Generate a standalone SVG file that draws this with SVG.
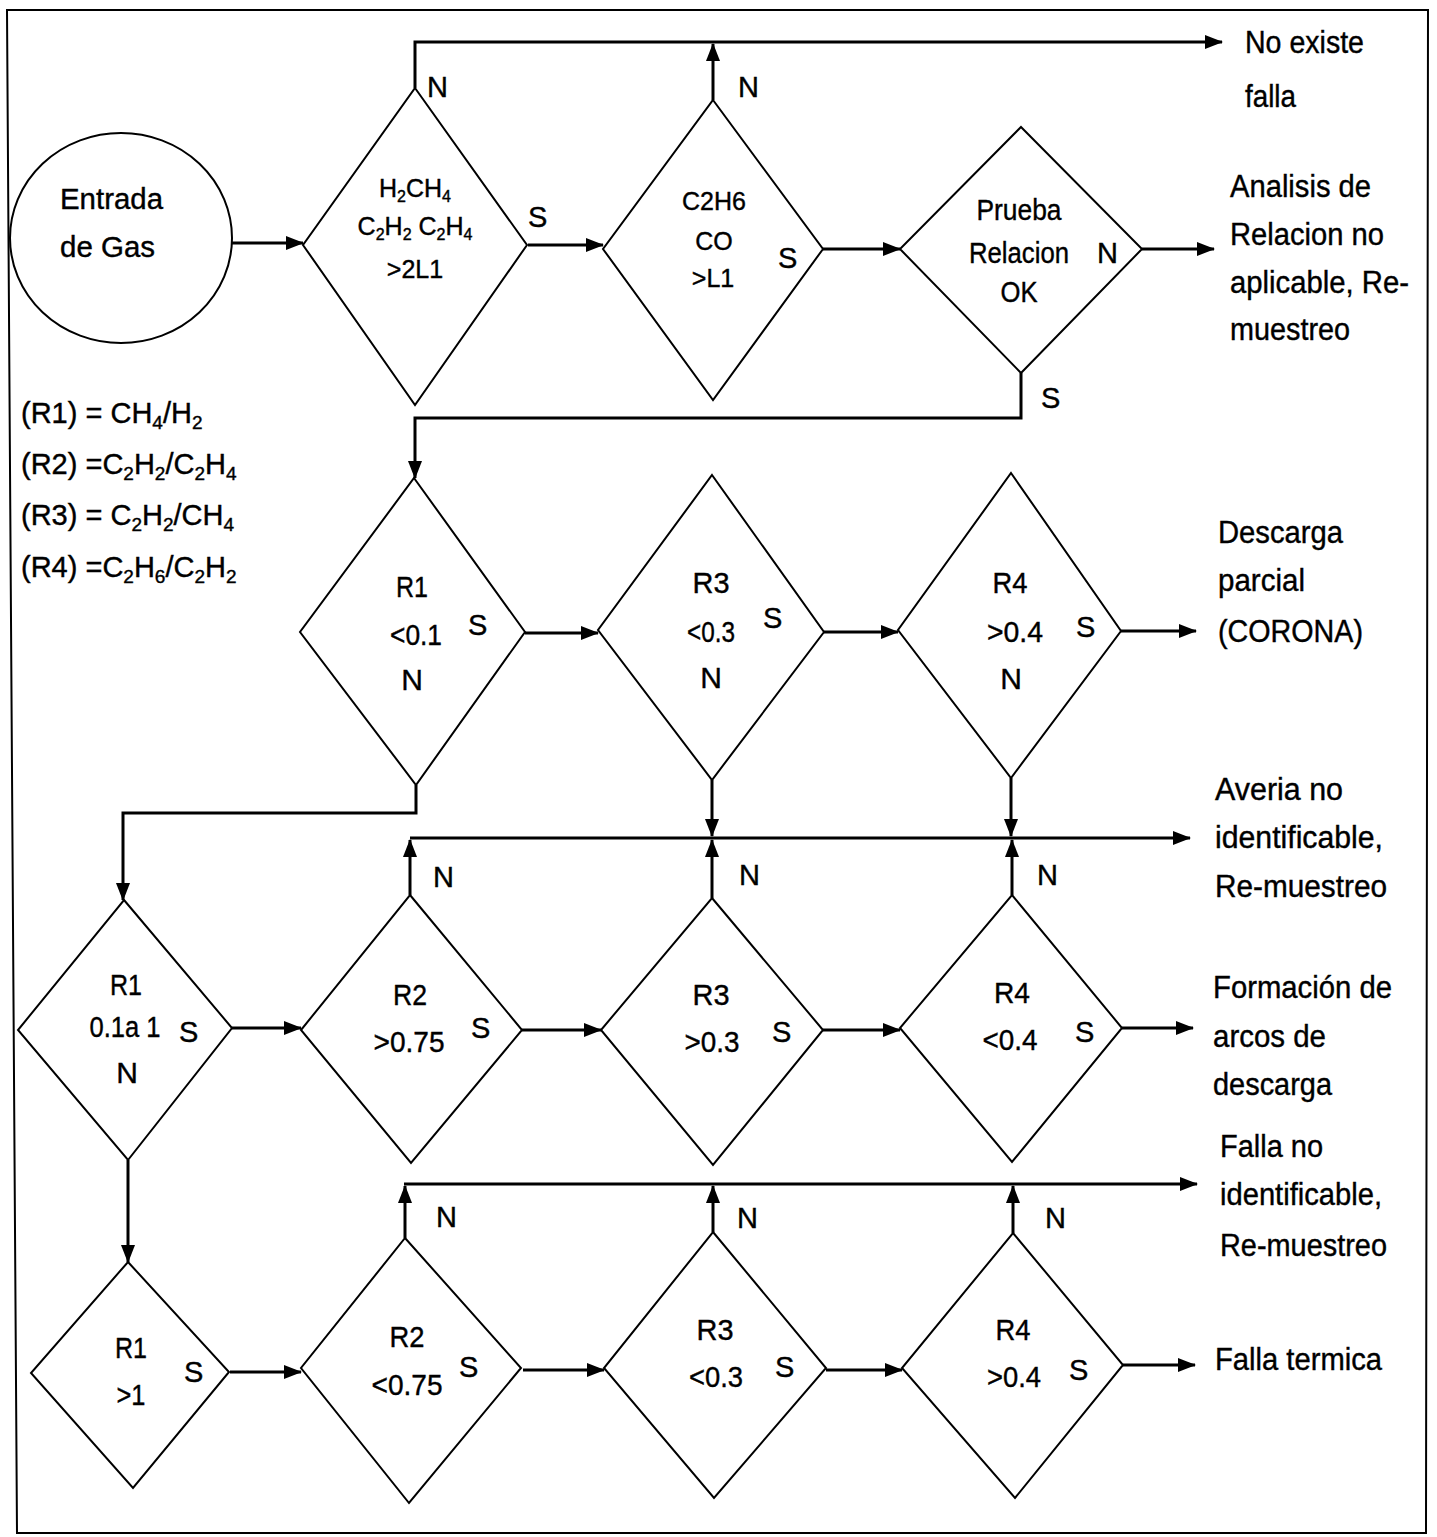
<svg xmlns="http://www.w3.org/2000/svg" width="1437" height="1537" viewBox="0 0 1437 1537">
<defs>
<marker id="ah" markerWidth="18" markerHeight="14" refX="17" refY="7" orient="auto" markerUnits="userSpaceOnUse"><path d="M0,0 L18,7 L0,14 z" fill="#000"/></marker>
<style>
text{font-family:"Liberation Sans",Arial,sans-serif;fill:#000;stroke:#000;stroke-width:0.4}
.n{font-size:30px;text-anchor:middle}
.t{font-size:25px;text-anchor:middle}
.l{font-size:29px}
.r{font-size:31px}
.g{font-size:29px}
.sub{font-size:19px}
.d{fill:#fff;stroke:#000;stroke-width:2}
.ca{fill:none;stroke:#000;stroke-width:3;marker-end:url(#ah)}
</style>
</defs>
<rect x="0" y="0" width="1437" height="1537" fill="#fff"/>
<polygon points="7,10 1428,10 1426,1533 17,1533" fill="none" stroke="#000" stroke-width="2"/>

<g id="connectors">
<path class="ca" d="M232,243 H303"/>
<path class="ca" d="M528,245 H603"/>
<path class="ca" d="M823,249 H900"/>
<path class="ca" d="M1142,249 H1214"/>
<path class="ca" d="M415,88 V42 H1222"/>
<path class="ca" d="M713,100 V44"/>
<path class="ca" d="M1021,373 V418 H415 V478"/>
<path class="ca" d="M525,633 H598"/>
<path class="ca" d="M824,632 H898"/>
<path class="ca" d="M1121,631 H1196"/>
<path class="ca" d="M416,785 V813 H123 V900"/>
<path class="ca" d="M712,780 V836"/>
<path class="ca" d="M1011,778 V836"/>
<path class="ca" d="M410,838 H1190"/>
<path class="ca" d="M410,895 V840"/>
<path class="ca" d="M712,898 V840"/>
<path class="ca" d="M1012,895 V840"/>
<path class="ca" d="M232,1028 H301"/>
<path class="ca" d="M522,1030 H601"/>
<path class="ca" d="M823,1030 H900"/>
<path class="ca" d="M1122,1028 H1193"/>
<path class="ca" d="M128,1160 V1262"/>
<path class="ca" d="M404,1184 H1197"/>
<path class="ca" d="M405,1238 V1186"/>
<path class="ca" d="M713,1232 V1186"/>
<path class="ca" d="M1013,1233 V1186"/>
<path class="ca" d="M230,1372 H301"/>
<path class="ca" d="M523,1370 H604"/>
<path class="ca" d="M826,1370 H902"/>
<path class="ca" d="M1123,1365 H1195"/>
</g>

<g id="start">
<ellipse cx="121" cy="238" rx="111" ry="105" fill="#fff" stroke="#000" stroke-width="2"/>
<text class="g" x="60" y="209" font-size="33" textLength="103" lengthAdjust="spacingAndGlyphs">Entrada</text>
<text class="g" x="60" y="257" font-size="33" textLength="95" lengthAdjust="spacingAndGlyphs">de Gas</text>
</g>

<g id="d1">
<polygon class="d" points="415,88 527,245 415,405 303,245"/>
<text class="t" x="415" y="197">H<tspan font-size="16" dy="5">2</tspan><tspan dy="-5">CH</tspan><tspan font-size="16" dy="5">4</tspan></text>
<text class="t" x="415" y="235">C<tspan font-size="16" dy="5">2</tspan><tspan dy="-5">H</tspan><tspan font-size="16" dy="5">2</tspan><tspan dy="-5"> C</tspan><tspan font-size="16" dy="5">2</tspan><tspan dy="-5">H</tspan><tspan font-size="16" dy="5">4</tspan></text>
<text class="t" x="415" y="278">&gt;2L1</text>
<text class="l" x="427" y="97">N</text>
<text class="l" x="528" y="227">S</text>
</g>

<g id="d2">
<polygon class="d" points="713,100 823,249 713,400 603,249"/>
<text class="t" x="714" y="210">C2H6</text>
<text class="t" x="714" y="250">CO</text>
<text class="t" x="713" y="287">&gt;L1</text>
<text class="l" x="738" y="97">N</text>
<text class="l" x="778" y="268">S</text>
</g>

<g id="d3">
<polygon class="d" points="1021,127 1142,249 1021,373 900,249"/>
<text class="n" x="1019" y="220" textLength="85" lengthAdjust="spacingAndGlyphs">Prueba</text>
<text class="n" x="1019" y="263" textLength="100" lengthAdjust="spacingAndGlyphs">Relacion</text>
<text class="n" x="1019" y="302" textLength="37" lengthAdjust="spacingAndGlyphs">OK</text>
<text class="l" x="1097" y="263">N</text>
<text class="l" x="1041" y="408">S</text>
</g>

<g id="d4">
<polygon class="d" points="414,478 525,632 416,785 300,632"/>
<text class="n" x="412" y="597" textLength="32" lengthAdjust="spacingAndGlyphs">R1</text>
<text class="n" x="416" y="645" textLength="52" lengthAdjust="spacingAndGlyphs">&lt;0.1</text>
<text class="n" x="412" y="690">N</text>
<text class="l" x="468" y="635">S</text>
</g>

<g id="d5">
<polygon class="d" points="712,475 824,632 712,780 598,630"/>
<text class="n" x="711" y="593" textLength="37" lengthAdjust="spacingAndGlyphs">R3</text>
<text class="n" x="711" y="642" textLength="48" lengthAdjust="spacingAndGlyphs">&lt;0.3</text>
<text class="n" x="711" y="688">N</text>
<text class="l" x="763" y="628">S</text>
</g>

<g id="d6">
<polygon class="d" points="1011,473 1121,631 1011,778 898,630"/>
<text class="n" x="1010" y="593" textLength="35" lengthAdjust="spacingAndGlyphs">R4</text>
<text class="n" x="1015" y="642" textLength="56" lengthAdjust="spacingAndGlyphs">&gt;0.4</text>
<text class="n" x="1011" y="689">N</text>
<text class="l" x="1076" y="637">S</text>
</g>

<g id="d7">
<polygon class="d" points="124,900 232,1028 128,1160 18,1030"/>
<text class="n" x="126" y="995" textLength="32" lengthAdjust="spacingAndGlyphs">R1</text>
<text class="n" x="125" y="1037" textLength="71" lengthAdjust="spacingAndGlyphs">0.1a 1</text>
<text class="l" x="179" y="1042">S</text>
<text class="n" x="127" y="1083">N</text>
</g>

<g id="d8">
<polygon class="d" points="410,895 522,1030 411,1163 301,1030"/>
<text class="n" x="410" y="1005" textLength="34" lengthAdjust="spacingAndGlyphs">R2</text>
<text class="n" x="409" y="1052" textLength="71" lengthAdjust="spacingAndGlyphs">&gt;0.75</text>
<text class="l" x="471" y="1038">S</text>
<text class="l" x="433" y="887">N</text>
</g>

<g id="d9">
<polygon class="d" points="712,898 823,1030 713,1165 601,1030"/>
<text class="n" x="711" y="1005" textLength="37" lengthAdjust="spacingAndGlyphs">R3</text>
<text class="n" x="712" y="1052" textLength="55" lengthAdjust="spacingAndGlyphs">&gt;0.3</text>
<text class="l" x="772" y="1042">S</text>
<text class="l" x="739" y="885">N</text>
</g>

<g id="d10">
<polygon class="d" points="1012,895 1122,1028 1012,1162 900,1028"/>
<text class="n" x="1012" y="1003" textLength="36" lengthAdjust="spacingAndGlyphs">R4</text>
<text class="n" x="1010" y="1050" textLength="55" lengthAdjust="spacingAndGlyphs">&lt;0.4</text>
<text class="l" x="1075" y="1042">S</text>
<text class="l" x="1037" y="885">N</text>
</g>

<g id="d11">
<polygon class="d" points="128,1262 229,1372 133,1488 31,1373"/>
<text class="n" x="131" y="1358" textLength="32" lengthAdjust="spacingAndGlyphs">R1</text>
<text class="n" x="131" y="1405" textLength="29" lengthAdjust="spacingAndGlyphs">&gt;1</text>
<text class="l" x="184" y="1382">S</text>
</g>

<g id="d12">
<polygon class="d" points="405,1238 521,1368 409,1503 301,1368"/>
<text class="n" x="407" y="1347" textLength="35" lengthAdjust="spacingAndGlyphs">R2</text>
<text class="n" x="407" y="1395" textLength="71" lengthAdjust="spacingAndGlyphs">&lt;0.75</text>
<text class="l" x="459" y="1377">S</text>
<text class="l" x="436" y="1227">N</text>
</g>

<g id="d13">
<polygon class="d" points="713,1232 826,1368 714,1498 604,1368"/>
<text class="n" x="715" y="1340" textLength="37" lengthAdjust="spacingAndGlyphs">R3</text>
<text class="n" x="716" y="1387" textLength="54" lengthAdjust="spacingAndGlyphs">&lt;0.3</text>
<text class="l" x="775" y="1377">S</text>
<text class="l" x="737" y="1228">N</text>
</g>

<g id="d14">
<polygon class="d" points="1013,1233 1123,1365 1015,1498 902,1368"/>
<text class="n" x="1013" y="1340" textLength="35" lengthAdjust="spacingAndGlyphs">R4</text>
<text class="n" x="1014" y="1387" textLength="54" lengthAdjust="spacingAndGlyphs">&gt;0.4</text>
<text class="l" x="1069" y="1380">S</text>
<text class="l" x="1045" y="1228">N</text>
</g>

<g id="out-noexiste">
<text class="r" x="1245" y="53" textLength="119" lengthAdjust="spacingAndGlyphs">No existe</text>
<text class="r" x="1245" y="107" textLength="51" lengthAdjust="spacingAndGlyphs">falla</text>
</g>
<g id="out-analisis">
<text class="r" x="1230" y="197" textLength="141" lengthAdjust="spacingAndGlyphs">Analisis de</text>
<text class="r" x="1230" y="245" textLength="154" lengthAdjust="spacingAndGlyphs">Relacion no</text>
<text class="r" x="1230" y="293" textLength="179" lengthAdjust="spacingAndGlyphs">aplicable, Re-</text>
<text class="r" x="1230" y="340" textLength="120" lengthAdjust="spacingAndGlyphs">muestreo</text>
</g>
<g id="out-descarga">
<text class="r" x="1218" y="543" textLength="125" lengthAdjust="spacingAndGlyphs">Descarga</text>
<text class="r" x="1218" y="591" textLength="87" lengthAdjust="spacingAndGlyphs">parcial</text>
<text class="r" x="1218" y="642" textLength="145" lengthAdjust="spacingAndGlyphs">(CORONA)</text>
</g>
<g id="out-averia">
<text class="r" x="1215" y="800" textLength="128" lengthAdjust="spacingAndGlyphs">Averia no</text>
<text class="r" x="1215" y="848" textLength="168" lengthAdjust="spacingAndGlyphs">identificable,</text>
<text class="r" x="1215" y="897" textLength="172" lengthAdjust="spacingAndGlyphs">Re-muestreo</text>
</g>
<g id="out-arcos">
<text class="r" x="1213" y="998" textLength="179" lengthAdjust="spacingAndGlyphs">Formación de</text>
<text class="r" x="1213" y="1047" textLength="113" lengthAdjust="spacingAndGlyphs">arcos de</text>
<text class="r" x="1213" y="1095" textLength="119" lengthAdjust="spacingAndGlyphs">descarga</text>
</g>
<g id="out-fallano">
<text class="r" x="1220" y="1157" textLength="103" lengthAdjust="spacingAndGlyphs">Falla no</text>
<text class="r" x="1220" y="1205" textLength="162" lengthAdjust="spacingAndGlyphs">identificable,</text>
<text class="r" x="1220" y="1256" textLength="167" lengthAdjust="spacingAndGlyphs">Re-muestreo</text>
</g>
<g id="out-termica">
<text class="r" x="1215" y="1370" textLength="167" lengthAdjust="spacingAndGlyphs">Falla termica</text>
</g>

<g id="legend">
<text class="g" x="21" y="423">(R1) = CH<tspan class="sub" dy="6">4</tspan><tspan dy="-6">/H</tspan><tspan class="sub" dy="6">2</tspan></text>
<text class="g" x="21" y="474">(R2) =C<tspan class="sub" dy="6">2</tspan><tspan dy="-6">H</tspan><tspan class="sub" dy="6">2</tspan><tspan dy="-6">/C</tspan><tspan class="sub" dy="6">2</tspan><tspan dy="-6">H</tspan><tspan class="sub" dy="6">4</tspan></text>
<text class="g" x="21" y="525">(R3) = C<tspan class="sub" dy="6">2</tspan><tspan dy="-6">H</tspan><tspan class="sub" dy="6">2</tspan><tspan dy="-6">/CH</tspan><tspan class="sub" dy="6">4</tspan></text>
<text class="g" x="21" y="577">(R4) =C<tspan class="sub" dy="6">2</tspan><tspan dy="-6">H</tspan><tspan class="sub" dy="6">6</tspan><tspan dy="-6">/C</tspan><tspan class="sub" dy="6">2</tspan><tspan dy="-6">H</tspan><tspan class="sub" dy="6">2</tspan></text>
</g>
</svg>
